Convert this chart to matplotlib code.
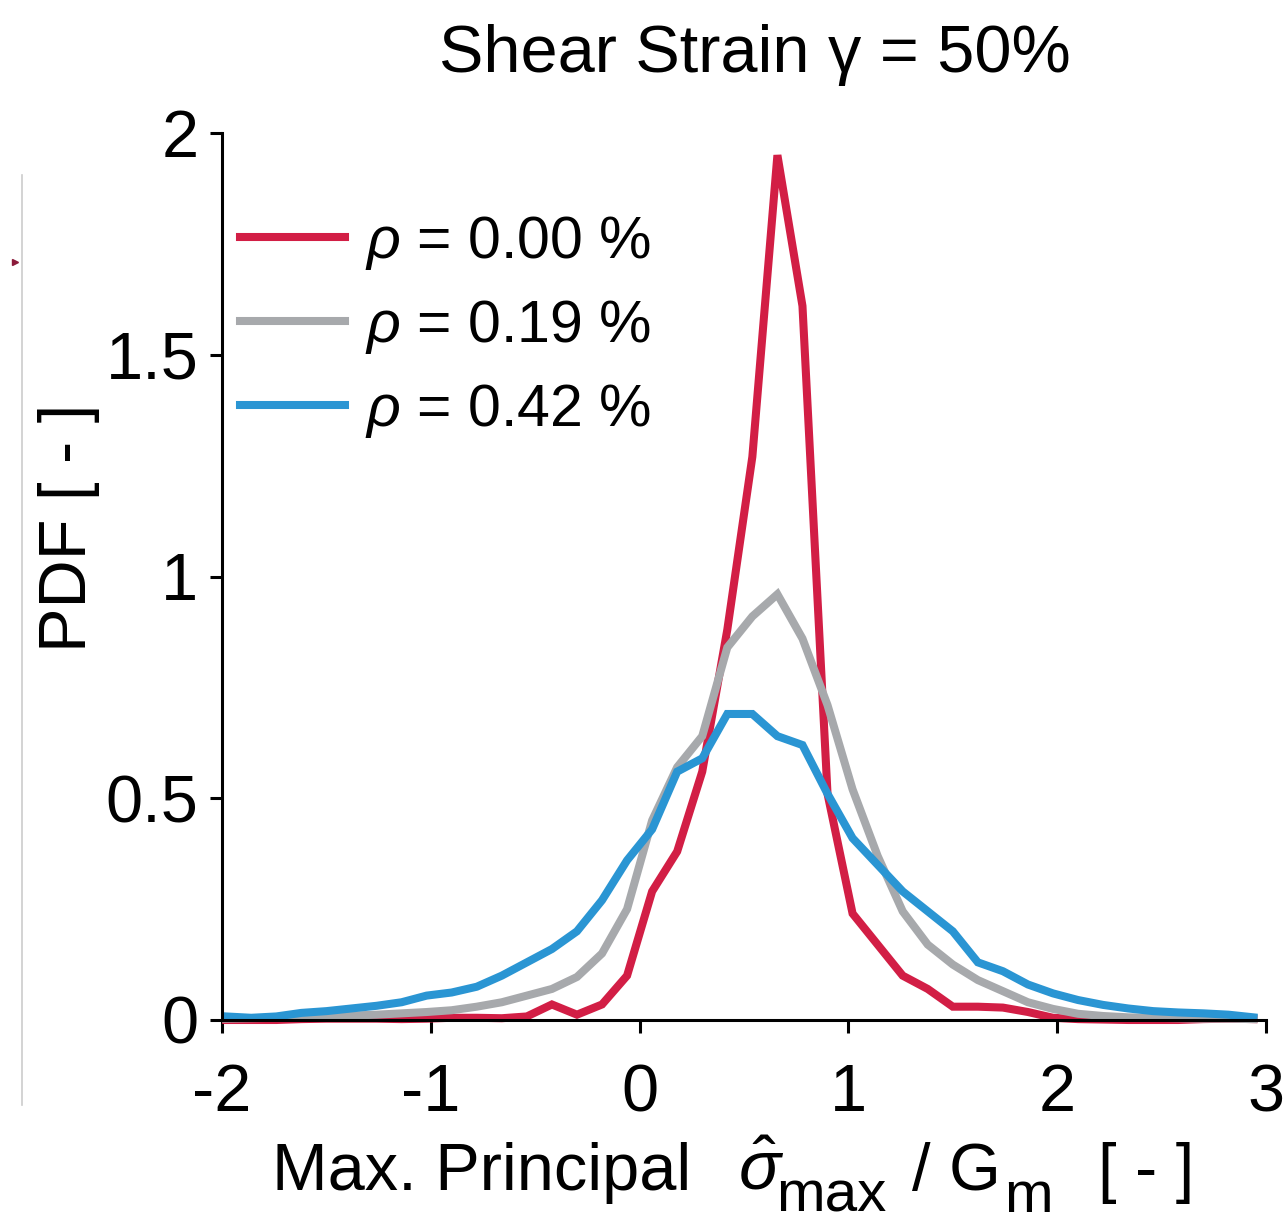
import numpy as np
import matplotlib
matplotlib.use('Agg')
import matplotlib.pyplot as plt
from matplotlib.lines import Line2D

plt.rcParams['font.family'] = ['Liberation Sans', 'DejaVu Sans']
plt.rcParams['mathtext.fontset'] = 'custom'
plt.rcParams['mathtext.rm'] = 'Liberation Sans'
plt.rcParams['mathtext.it'] = 'Liberation Sans:italic'
plt.rcParams['axes.unicode_minus'] = False

# bin centres of the stress histogram
x = np.round(np.arange(-1.98, 2.95, 0.12), 2)

pdf_000 = [0.0, 0.0, 0.0, 0.002, 0.003, 0.003, 0.003, 0.002, 0.003, 0.005, 0.005, 0.004,
           0.008, 0.035, 0.012, 0.035, 0.10, 0.29, 0.38, 0.56, 0.88, 1.27, 1.95, 1.61,
           0.51, 0.24, 0.17, 0.10, 0.07, 0.03, 0.03, 0.028, 0.018, 0.005, 0.002, 0.001,
           0.0, 0.0, 0.0, 0.002, 0.003, 0.002]
pdf_019 = [0.003, 0.004, 0.005, 0.006, 0.008, 0.010, 0.012, 0.015, 0.018, 0.022, 0.030, 0.040,
           0.055, 0.070, 0.097, 0.15, 0.25, 0.45, 0.57, 0.64, 0.84, 0.91, 0.96, 0.86,
           0.71, 0.52, 0.37, 0.245, 0.17, 0.125, 0.09, 0.065, 0.04, 0.025, 0.014, 0.009,
           0.006, 0.005, 0.004, 0.003, 0.003, 0.002]
pdf_042 = [0.008, 0.005, 0.008, 0.016, 0.020, 0.026, 0.032, 0.040, 0.055, 0.062, 0.075, 0.10,
           0.13, 0.16, 0.20, 0.27, 0.36, 0.43, 0.56, 0.59, 0.69, 0.69, 0.64, 0.62,
           0.51, 0.41, 0.35, 0.29, 0.245, 0.20, 0.13, 0.11, 0.08, 0.06, 0.045, 0.034,
           0.026, 0.020, 0.017, 0.015, 0.012, 0.006]

labels = [r'$\rho$ = 0.00 %', r'$\rho$ = 0.19 %', r'$\rho$ = 0.42 %']
colors = ['#D21E45', '#A7A9AC', '#2A95D3']

W, H = 1286, 1225
fig = plt.figure(figsize=(W / 100, H / 100), dpi=100)
ax = fig.add_axes([222 / W, 1 - 1020 / H, 1044 / W, 887 / H])

for y, c, lab in zip([pdf_000, pdf_019, pdf_042], colors, labels):
    ax.plot(x, y, color=c, lw=5.8, label=lab, solid_joinstyle='miter', clip_on=False)

ax.set_xlim(-2, 3)
ax.set_ylim(0, 2)
ax.set_xticks([-2, -1, 0, 1, 2, 3])
ax.set_yticks([0, 0.5, 1, 1.5, 2])
ax.set_yticklabels(['0', '0.5', '1', '1.5', '2'])
for s in ['top', 'right']:
    ax.spines[s].set_visible(False)
for s in ['left', 'bottom']:
    ax.spines[s].set_linewidth(2.2)
ax.tick_params(direction='out', length=9, width=2.2, labelsize=48)
ax.tick_params(axis='x', pad=22)
ax.tick_params(axis='y', pad=8)

ax.set_ylabel('PDF [ - ]', fontsize=48)
ax.yaxis.set_label_coords(-0.117, 0.555)


def ftext(px, py, s, **kw):
    # place text by pixel position, baseline anchored
    return fig.text(px / W, 1 - py / H, s, va='baseline', **kw)


ftext(755, 72, r'Shear Strain γ = 50%', ha='center', fontsize=48)

# x axis label built piece by piece so the subscripts stay large
ftext(272, 1190, 'Max. Principal', ha='left', fontsize=48)
ftext(738, 1190, r'$\hat{\sigma}$', ha='left', fontsize=50)
ftext(776, 1212, 'max', ha='left', fontsize=42)
ftext(912, 1190, '/ G', ha='left', fontsize=48)
ftext(1004, 1212, 'm', ha='left', fontsize=42)
ftext(1098, 1190, '[ - ]', ha='left', fontsize=48)

ax.legend(loc='upper left', bbox_to_anchor=((240 - 222) / 1044, 0.909), frameon=False,
          fontsize=42.5, handlelength=1.78, handletextpad=0.34, labelspacing=0.44,
          borderaxespad=0, borderpad=0)

# edge of the neighbouring panel
fig.add_artist(Line2D([22 / W, 22 / W], [1 - 1105 / H, 1 - 175 / H],
                      color='#cccccc', lw=1.2))
fig.add_artist(Line2D([15 / W], [1 - 262 / H], marker='>', ms=4, color='#8B1A3A', lw=0))

fig.savefig('out.png', dpi=100)
